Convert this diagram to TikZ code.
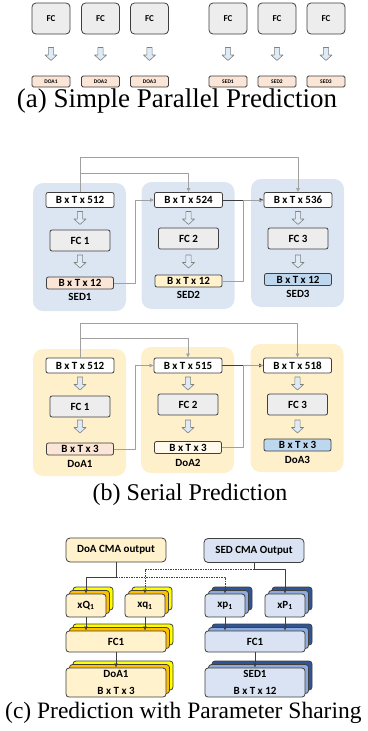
\documentclass[tikz,border=0pt]{standalone}
\usepackage{fontspec}
\setmainfont{Liberation Serif}
\setsansfont{Carlito}
\usetikzlibrary{arrows.meta,shadows}
\definecolor{edge}{HTML}{3F3F3F}
\definecolor{fcgray}{HTML}{EDEDED}
\definecolor{peach}{HTML}{FBE5D6}
\definecolor{ltyel}{HTML}{FFF2CC}
\definecolor{cream}{HTML}{FFFAEB}
\definecolor{outblue}{HTML}{BDD7EE}
\definecolor{panelblue}{HTML}{DCE6F2}
\definecolor{panelyel}{HTML}{FEF0CB}
\definecolor{cmablue}{HTML}{DAE3F3}
\definecolor{arrowfill}{HTML}{DEEBF7}
\definecolor{stkyel}{HTML}{FFFF00}
\definecolor{stkorange}{HTML}{FFC000}
\definecolor{stkdark}{HTML}{2F5597}
\definecolor{stkmid}{HTML}{8FAADC}
\definecolor{linegray}{HTML}{A0A0A0}
\begin{document}
\begin{tikzpicture}[x=1pt,y=-1pt,>={Latex[length=4pt,width=4pt]},line join=round,
    font=\sffamily\bfseries\fontsize{11}{12}\selectfont,
    box/.style={draw=edge,line width=0.8pt,rounded corners=2pt,inner sep=0pt},
    fcbox/.style={box,fill=fcgray,minimum width=60pt,minimum height=21pt},
    dimbox/.style={box,fill=white,minimum width=68pt,minimum height=15pt},
    outbox/.style={box,minimum width=67pt,minimum height=12pt},
    tinybox/.style={box,fill=peach,rounded corners=1.5pt,minimum width=38pt,minimum height=11pt,
      font=\sffamily\bfseries\fontsize{5.5}{6}\selectfont},
    hollow/.pic={\draw[gray,fill=arrowfill,line width=0.6pt]
      (-2.6,-6.5) -- (2.6,-6.5) -- (2.6,1) -- (6,1) -- (0,6.5) -- (-6,1) -- (-2.6,1) -- cycle;},
    lbl/.style={inner sep=0pt},
    caption/.style={inner sep=0pt,font=\rmfamily\mdseries\fontsize{24}{28}\selectfont},
    conn/.style={linegray,line width=0.5pt},
    cline/.style={edge,line width=0.6pt},
    dline/.style={cline,dash pattern=on 1.5pt off 1pt},
    cmabox/.style={box,rounded corners=4pt,minimum width=100pt,minimum height=24pt},
    stackL/.style={box,rounded corners=3pt,fill=ltyel,
      copy shadow={shadow xshift=7pt,shadow yshift=7pt,fill=stkyel,draw=edge},
      copy shadow={shadow xshift=3.5pt,shadow yshift=3.5pt,fill=stkorange,draw=edge}},
    stackR/.style={box,rounded corners=3pt,fill=cmablue,
      copy shadow={shadow xshift=7pt,shadow yshift=7pt,fill=stkdark,draw=edge},
      copy shadow={shadow xshift=3.5pt,shadow yshift=3.5pt,fill=stkmid,draw=edge}}]
  \useasboundingbox (0,0) rectangle (367,731);
  % (a) simple parallel prediction
  \begin{scope}
    \foreach \i/\x/\t in {1/51/DOA1,2/100.5/DOA2,3/149.5/DOA3,4/228/SED1,5/277/SED2,6/326/SED3}{
      \node[fcbox,minimum width=38pt,minimum height=31pt,rounded corners=4pt,
        font=\sffamily\bfseries\fontsize{9}{10}\selectfont] (fc\i) at (\x,18.5) {FC};
      \pic at (\x,54) {hollow};
      \node[tinybox] (res\i) at (\x,81.5) {\t};
    }
    \node[caption,font=\rmfamily\mdseries\fontsize{27}{30}\selectfont] (capa) at (177,101) {(a) Simple Parallel Prediction};
  \end{scope}
  % (b) serial prediction, SED row
  \begin{scope}
    \foreach \i/\x/\d/\yf/\yo/\pt/\pb/\c in {1/80/512/240.5/283/183/311/peach,
        2/188.5/524/238.5/281/182/309/ltyel,3/298/536/238.5/279.5/179/307/outblue}{
      \fill[panelblue,rounded corners=10pt] (\x-47,\pt) rectangle (\x+46,\pb);
      \node[dimbox] (s\i) at (\x,200) {B x T x \d};
      \pic at (\x,218) {hollow};
      \node[fcbox] (sfc\i) at (\x,\yf) {FC \i};
      \pic at (\x,261.5) {hollow};
      \node[outbox,fill=\c] (so\i) at (\x,\yo) {B x T x 12};
      \node[lbl] (sl\i) at (\x,\yo+14) {SED\i};
    }
    \draw[conn,->] (s1.north) -- ++(0,-34.5) -| (s3.north);
    \draw[conn,->] (s1.north |- 0,173) -| (s2.north);
    \draw[conn,->] (so1.east) -- ++(21,0) |- (s2.west);
    \draw[conn,edge,->] (s2.east) -- (s3.west);
    \draw[conn] (so2.east) -- ++(21,0) |- (s3.west);
  \end{scope}
  % (b) serial prediction, DoA row
  \begin{scope}
    \foreach \i/\x/\d/\yf/\yo/\pt/\pb/\c in {1/80/512/406.5/449/349/476/peach,
        2/188/515/404.5/447.5/347/473/cream,3/297.5/518/404.5/445/344/472/outblue}{
      \fill[panelyel,rounded corners=10pt] (\x-47,\pt) rectangle (\x+46,\pb);
      \node[dimbox] (d\i) at (\x,365.5) {B x T x \d};
      \pic at (\x,383.5) {hollow};
      \node[fcbox] (dfc\i) at (\x,\yf) {FC \i};
      \pic at (\x,426.5) {hollow};
      \node[outbox,fill=\c] (do\i) at (\x,\yo) {B x T x 3};
      \node[lbl] (dl\i) at (\x,\yo+15) {DoA\i};
    }
    \draw[conn,->] (d1.north) -- ++(0,-34) -| (d3.north);
    \draw[conn,->] (d1.north |- 0,338) -| (d2.north);
    \draw[conn,->] (do1.east) -- ++(21,0) |- (d2.west);
    \draw[conn,edge,->] (d2.east) -- (d3.west);
    \draw[conn] (do2.east) -- ++(21,0) |- (d3.west);
    \node[caption] (capb) at (190,495) {(b) Serial Prediction};
  \end{scope}
  % (c) prediction with parameter sharing
  \begin{scope}
    \node[cmabox,fill=ltyel] (doacma) at (116,550) {DoA CMA output};
    \node[cmabox,fill=cmablue] (sedcma) at (254,550.5) {SED CMA Output};
    \node[stackL,minimum width=40pt,minimum height=23pt] (xQ) at (86,605.5) {xQ\textsubscript{1}};
    \node[stackL,minimum width=40pt,minimum height=23pt] (xq) at (145,605.5) {xq\textsubscript{1}};
    \node[stackR,minimum width=40pt,minimum height=23pt] (xp) at (225,605.5) {xp\textsubscript{1}};
    \node[stackR,minimum width=40pt,minimum height=23pt] (xP) at (285,605.5) {xP\textsubscript{1}};
    \node[stackL,minimum width=100pt,minimum height=21pt] (fcL) at (116,641.5) {FC1};
    \node[stackR,minimum width=100pt,minimum height=21pt] (fcR) at (255,641.5) {FC1};
    \node[stackL,minimum width=100pt,minimum height=29pt,align=center,
      font=\sffamily\bfseries\fontsize{11}{17}\selectfont] (doa) at (116,682.5) {DoA1\\B x T x 3};
    \node[stackR,minimum width=100pt,minimum height=29pt,align=center,
      font=\sffamily\bfseries\fontsize{11}{17}\selectfont] (sed) at (255,682.5) {SED1\\B x T x 12};
    \draw[cline,->] (doacma.south) -- ++(0,15) -| (xQ.north);
    \draw[dline,->] (doacma.south |- 0,577) -| (xp.north);
    \draw[cline] (sedcma.south) -- ++(0,6.5) coordinate (sj);
    \draw[cline,->] (sj) -| (xP.north);
    \draw[dline,->] (sj) -| (xq.north);
    \draw[cline,->] (xQ.south) -- (xQ.south |- fcL.north);
    \draw[cline,->] (xq.south) -- (xq.south |- fcL.north);
    \draw[cline,->] (xp.south) -- (xp.south |- fcR.north);
    \draw[cline,->] (xP.south) -- (xP.south |- fcR.north);
    \draw[cline,->] (fcL.south) -- (doa.north);
    \draw[cline,->] (fcR.south) -- (sed.north);
    \node[caption,anchor=west,font=\rmfamily\mdseries\fontsize{23.5}{28}\selectfont] (capc) at (5,713) {(c) Prediction with Parameter Sharing};
  \end{scope}
\end{tikzpicture}
\end{document}
